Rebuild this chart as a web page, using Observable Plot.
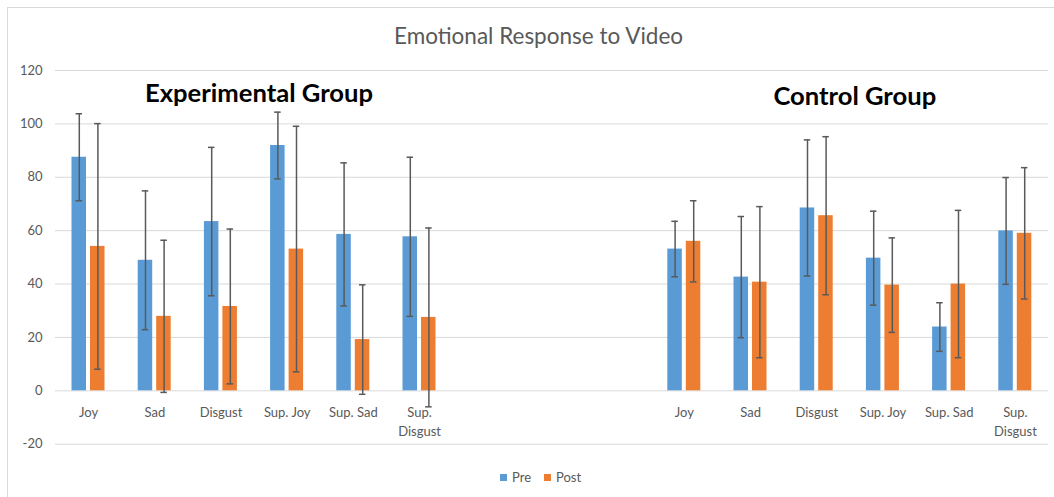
<!DOCTYPE html>
<html>
<head>
<meta charset="utf-8">
<script src="https://cdn.jsdelivr.net/npm/d3@7"></script>
<script src="https://cdn.jsdelivr.net/npm/@observablehq/plot@0.6"></script>
<style>
  body { margin: 0; background: #fff; font-family: Lato, "Open Sans", sans-serif; }
  #chart { position: relative; width: 1054px; height: 497px; overflow: hidden; background: #fff; }
  #frame { position: absolute; left: 7px; top: 7px; width: 1200px; height: 700px;
           border-left: 1px solid #d9d9d9; border-top: 1px solid #d9d9d9; }
  #title { position: absolute; left: 0; top: 22px; width: 1077px; text-align: center;
           font-size: 22.5px; line-height: 28px; color: #595959; }
  #plot { position: absolute; left: 0; top: 55px; }
  #legend { position: absolute; top: 468px; left: 500px; display: flex; align-items: center;
            font-size: 13px; line-height: 18px; color: #595959; }
  #legend .sw { display: inline-block; width: 7px; height: 7px; margin-right: 5px; }
  #legend .item { display: flex; align-items: center; margin-right: 13px; }
</style>
</head>
<body>
<div id="chart">
  <div id="frame"></div>
  <div id="title">Emotional Response to Video</div>
  <div id="plot"></div>
  <div id="legend"></div>
</div>
<script>
// Emotion categories shown for each group, and their axis labels
const categories = ["Joy", "Sad", "Disgust", "Sup. Joy", "Sup. Sad", "Sup. Disgust"];
const tickLabels = ["Joy", "Sad", "Disgust", "Sup. Joy", "Sup. Sad", "Sup.\nDisgust"];
const groups = ["Experimental Group", "Control Group"];
const series = ["Pre", "Post"];
const seriesColors = ["#5b9bd5", "#ed7d31"];
const yTicks = [-20, 0, 20, 40, 60, 80, 100, 120];

// Mean ratings and error-bar half-widths
const expPre      = [87.5, 48.9, 63.4, 91.9, 58.6, 57.7];
const expPreErr   = [16.3, 26.0, 27.8, 12.5, 26.8, 29.8];
const expPost     = [54.1, 27.9, 31.6, 53.1, 19.2, 27.5];
const expPostErr  = [46.0, 28.5, 29.0, 46.0, 20.5, 33.5];
const ctlPre      = [53.1, 42.6, 68.5, 49.7, 23.9, 59.9];
const ctlPreErr   = [10.4, 22.7, 25.5, 17.6, 9.1, 20.0];
const ctlPost     = [56.0, 40.7, 65.6, 39.6, 40.0, 59.0];
const ctlPostErr  = [15.2, 28.3, 29.6, 17.7, 27.6, 24.6];

// Category slots along x: six per group with three empty slots between them
const expKeys = categories.map(c => "exp:" + c);
const ctlKeys = categories.map(c => "ctl:" + c);
const gapKeys = ["gap:1", "gap:2", "gap:3"];
const slots = [...expKeys, ...gapKeys, ...ctlKeys];

const rows = (keys, values, errs, s) =>
  keys.map((key, i) => ({key, series: s, value: values[i], err: errs[i]}));
const pre  = [...rows(expKeys, expPre, expPreErr, "Pre"), ...rows(ctlKeys, ctlPre, ctlPreErr, "Pre")];
const post = [...rows(expKeys, expPost, expPostErr, "Post"), ...rows(ctlKeys, ctlPost, ctlPostErr, "Post")];

const labelRows = [...expKeys, ...ctlKeys].map((key, i) => ({key, label: tickLabels[i % 6]}));

const errColor = "#595959";
const errMarks = (data, dx, capL, capR) => [
  Plot.ruleX(data, {x: "key", y1: d => d.value - d.err, y2: d => d.value + d.err, dx, stroke: errColor, strokeWidth: 1.5}),
  Plot.tickY(data, {x: "key", y: d => d.value + d.err, insetLeft: capL, insetRight: capR, stroke: errColor, strokeWidth: 1.5}),
  Plot.tickY(data, {x: "key", y: d => d.value - d.err, insetLeft: capL, insetRight: capR, stroke: errColor, strokeWidth: 1.5})
];

// Bold heading over each group, centred over its six categories
const groupHeading = (key, label, dy) =>
  Plot.text([{key, label}], {x: "key", frameAnchor: "top", text: "label", lineAnchor: "bottom", dx: 38, dy,
                             fill: "#000", fontSize: 25.6, fontWeight: "bold"});

const chart = Plot.plot({
  width: 1054,
  height: 400,
  marginLeft: 55,
  marginRight: 6,
  marginTop: 15,
  marginBottom: 11.3,
  style: {fontFamily: "Lato, 'Open Sans', sans-serif", fontSize: "13px", color: "#595959", background: "transparent"},
  x: {domain: slots, padding: 0, round: false, axis: null},
  y: {domain: [-20, 120], ticks: yTicks, tickSize: 0, tickPadding: 13, label: null, tickFormat: d => `${d}`},
  marks: [
    Plot.ruleY(yTicks, {stroke: "#d9d9d9", strokeWidth: 1}),
    Plot.barY(pre,  {x: "key", y: "value", fill: seriesColors[0], insetLeft: 16.5, insetRight: 35.2}),
    Plot.barY(post, {x: "key", y: "value", fill: seriesColors[1], insetLeft: 35, insetRight: 16.7}),
    ...errMarks(pre, -9.3, 20.55, 39.15),
    ...errMarks(post, 9.3, 39.15, 20.55),
    Plot.text(labelRows, {x: "key", y: 0, text: "label", lineAnchor: "top", dy: 13, lineHeight: 1.45,
                          fill: "#595959", fontSize: 13}),
    groupHeading(expKeys[2], groups[0], 31),
    groupHeading(ctlKeys[2], groups[1], 34.3)
  ]
});
document.getElementById("plot").appendChild(chart);

// Legend
const legend = document.getElementById("legend");
series.forEach((s, i) => {
  const item = document.createElement("span");
  item.className = "item";
  const sw = document.createElement("span");
  sw.className = "sw";
  sw.style.background = seriesColors[i];
  item.appendChild(sw);
  item.appendChild(document.createTextNode(s));
  legend.appendChild(item);
});
</script>
</body>
</html>
